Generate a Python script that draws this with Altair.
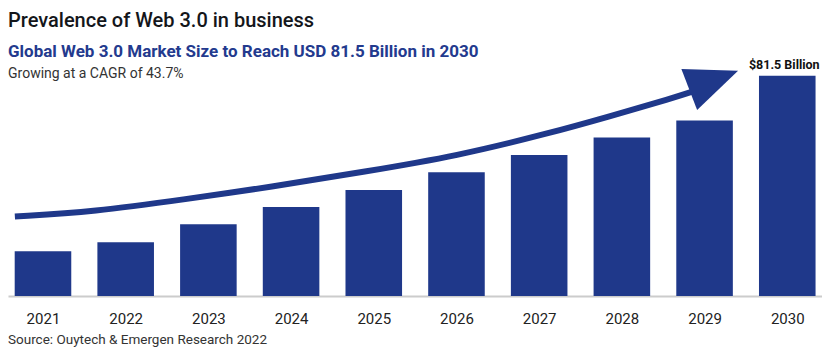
import altair as alt
import pandas as pd

# ---- data ----
years = [2021, 2022, 2023, 2024, 2025, 2026, 2027, 2028, 2029, 2030]
market_size = [16.6, 19.9, 26.5, 32.9, 39.2, 45.8, 52.2, 58.6, 64.9, 81.5]  # USD billion

# growth arrow (decoration) in data coordinates: year position, value
arrow_x = [2020.66, 2021.61, 2022.74, 2023.75, 2024.87, 2026.01, 2027.13, 2027.82, 2028.62, 2028.91]
arrow_y = [29.4, 31.1, 35.9, 40.3, 45.9, 51.8, 60.3, 66.2, 73.3, 76.2]
arrow_head_x = [2029.11]
arrow_head_y = [79.9]

title_text = "Prevalence of Web 3.0 in business"
subtitle_text = "Global Web 3.0 Market Size to Reach USD 81.5 Billion in 2030"
note_text = "Growing at a CAGR of 43.7%"
source_text = "Source: Ouytech & Emergen Research 2022"
value_label = "$81.5 Billion"

BLUE = "#1f388a"
FONT = "Roboto"

bars_df = pd.DataFrame({"year": years, "value": market_size})
arrow_df = pd.DataFrame({"ax": arrow_x, "ay": arrow_y})
head_df = pd.DataFrame({"hx": arrow_head_x, "hy": arrow_head_y})

x_scale = alt.Scale(domain=[2020.577, 2030.420], nice=False, zero=False, padding=0)
y_scale = alt.Scale(domain=[0, 106.55], nice=False, padding=0)
x_axis = alt.Axis(
    values=years, format="d", title=None, grid=False, ticks=False, tickSize=0,
    labelFontSize=15, labelFont=FONT, labelColor="#222222", labelPadding=15,
    domainColor="#cccccc", domainWidth=2, labelAngle=0,
)

bars = alt.Chart(bars_df).transform_calculate(
    x0="datum.year - 0.342", x1="datum.year + 0.342"
).mark_bar(color=BLUE).encode(
    x=alt.X("x0:Q", scale=x_scale, axis=x_axis),
    x2="x1:Q",
    y=alt.Y("value:Q", scale=y_scale, axis=None),
    y2=alt.datum(0),
)

line = alt.Chart(arrow_df).mark_line(
    interpolate="basis", strokeWidth=6, color=BLUE, strokeCap="butt"
).encode(
    x=alt.X("ax:Q", scale=x_scale, axis=x_axis),
    y=alt.Y("ay:Q", scale=y_scale, axis=None),
)

head = alt.Chart(head_df).mark_point(
    shape="M -1 -0.84 L 1 0 L -1 0.84 Z", filled=True, size=2735, angle=339,
    color=BLUE, opacity=1, strokeWidth=0,
).encode(
    x=alt.X("hx:Q", scale=x_scale, axis=x_axis),
    y=alt.Y("hy:Q", scale=y_scale, axis=None),
)

label = alt.Chart(bars_df).transform_filter("datum.year == 2030").transform_calculate(
    lab=f"'{value_label}'"
).mark_text(
    font=FONT, fontSize=12.5, fontWeight="bold", color="#111111", dy=-7, dx=-3,
    baseline="alphabetic", align="center",
).encode(
    x=alt.X("year:Q", scale=x_scale, axis=x_axis),
    y=alt.Y("value:Q", scale=y_scale, axis=None),
    text="lab:N",
)

def header(text, y, size, weight, color):
    return alt.Chart(pd.DataFrame({"t": [text]})).mark_text(
        font=FONT, fontSize=size, fontWeight=weight, color=color,
        align="left", baseline="alphabetic",
    ).encode(x=alt.value(0), y=alt.value(y), text="t:N")

t1 = header(title_text, 19, 20, 500, "#14161a")
t2 = header(subtitle_text, 48.5, 17, "bold", "#233a8e")
t3 = header(note_text, 70, 14, "normal", "#333333")
t4 = header(source_text, 336, 13.5, "normal", "#333333")

chart = alt.layer(bars, line, head, label, t1, t2, t3, t4).properties(
    width=814, height=288,
    padding={"left": 0, "top": 0, "right": 0, "bottom": 52},
    autosize=alt.AutoSizeParams(type="none"),
    background="white",
).configure_view(stroke=None)

chart.save("out.html", embed_options={"renderer": "svg", "actions": False})
